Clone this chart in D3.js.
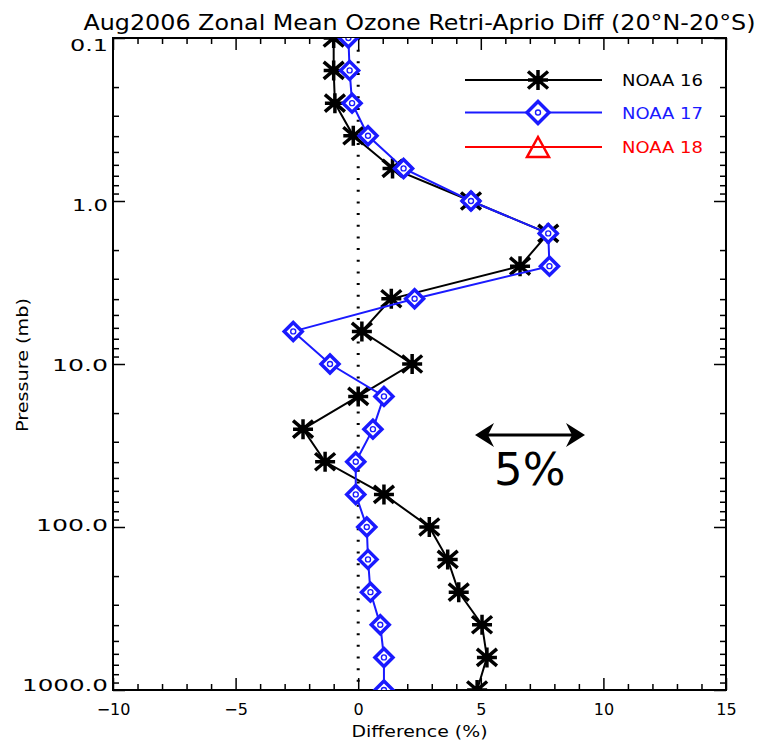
<!DOCTYPE html>
<html>
<head>
<meta charset="utf-8">
<script src="https://cdn.jsdelivr.net/npm/d3@7"></script>
<style>
  html, body { margin: 0; padding: 0; background: #fff; }
  svg { display: block; }
  text { font-family: "DejaVu Sans", sans-serif; }
</style>
</head>
<body>
<svg id="chart" width="759" height="741"></svg>
<script>
// ---- data ----
const pressureLevels = [0.1, 0.158, 0.251, 0.398, 0.631, 1.0, 1.58, 2.51, 3.98, 6.31, 10, 15.8, 25.1, 39.8, 63.1, 100, 158, 251, 398, 631, 1000];
const noaa16 = [-1.0, -1.0, -0.95, -0.2, 1.4, 4.6, 7.75, 6.6, 1.35, 0.15, 2.2, 0.0, -2.25, -1.35, 1.05, 2.9, 3.65, 4.1, 5.05, 5.25, 4.85];
const noaa17 = [-0.4, -0.35, -0.25, 0.4, 1.85, 4.6, 7.75, 7.8, 2.3, -2.65, -1.15, 1.05, 0.6, -0.1, -0.1, 0.35, 0.4, 0.5, 0.9, 1.05, 1.05];
const noaa18 = [];
const seriesNames = ["NOAA 16", "NOAA 17", "NOAA 18"];
const seriesColors = ["#000000", "#1a1aff", "#ff0000"];
const xMajorTicks = [-10, -5, 0, 5, 10, 15];
const yMajorTicks = [0.1, 1, 10, 100, 1000];
const titleText = "Aug2006 Zonal Mean Ozone Retri-Aprio Diff (20°N-20°S)";
const xTitle = "Difference (%)";
const yTitle = "Pressure (mb)";
const noteText = "5%";

// ---- layout ----
const L = 113, R = 726, T = 38, B = 690;
const svg = d3.select("#chart");
const x = d3.scaleLinear().domain([-10, 15]).range([L, R]);
const y = d3.scaleLog().domain([0.1, 1000]).range([T, B]);

const xMinor = d3.range(-10, 15.001, 1).filter(v => !xMajorTicks.includes(v));
const yMinor = [];
[0.1, 1, 10, 100].forEach(d => { for (let k = 2; k <= 9; k++) yMinor.push(d * k); });

function styleAxis(g) {
  g.select(".domain").remove();
  g.selectAll(".tick line").attr("stroke", "#000").attr("stroke-width", 1.5);
}

// ticks (inward)
svg.append("g").attr("transform", `translate(0,${B})`)
  .call(d3.axisBottom(x).tickValues(xMinor).tickSize(-6).tickFormat("")).call(styleAxis);
svg.append("g").attr("transform", `translate(0,${T})`)
  .call(d3.axisTop(x).tickValues(xMinor).tickSize(-6).tickFormat("")).call(styleAxis);
svg.append("g").attr("transform", `translate(0,${T})`)
  .call(d3.axisTop(x).tickValues(xMajorTicks).tickSize(-12).tickFormat("")).call(styleAxis);
svg.append("g").attr("transform", `translate(${L},0)`)
  .call(d3.axisLeft(y).tickValues(yMinor).tickSize(-6).tickFormat("")).call(styleAxis);
svg.append("g").attr("transform", `translate(${R},0)`)
  .call(d3.axisRight(y).tickValues(yMinor).tickSize(-6).tickFormat("")).call(styleAxis);
svg.append("g").attr("transform", `translate(${R},0)`)
  .call(d3.axisRight(y).tickValues(yMajorTicks).tickSize(-12).tickFormat("")).call(styleAxis);

// bottom major ticks + labels
const xAx = svg.append("g").attr("transform", `translate(0,${B})`)
  .call(d3.axisBottom(x).tickValues(xMajorTicks).tickSize(-12).tickPadding(14).tickFormat(d3.format("d")))
  .call(styleAxis);
xAx.selectAll(".tick text").attr("fill", "#000").attr("font-size", 16)
  .attr("font-family", "DejaVu Sans, sans-serif");

// left major ticks + labels
const yLabelWidths = {0.1: 38, 1: 36, 10: 56, 100: 72, 1000: 86};
const yAx = svg.append("g").attr("transform", `translate(${L},0)`)
  .call(d3.axisLeft(y).tickValues(yMajorTicks).tickSize(-12).tickPadding(5).tickFormat(d3.format(".1f")))
  .call(styleAxis);
yAx.selectAll(".tick text").attr("fill", "#000").attr("font-size", 16)
  .attr("font-family", "DejaVu Sans, sans-serif")
  .attr("dy", null)
  .attr("y", (d, i) => 6 + 6 - 12 * (i / 4))
  .attr("textLength", d => yLabelWidths[d])
  .attr("lengthAdjust", "spacingAndGlyphs");

// frame
svg.append("rect").attr("x", L).attr("y", T).attr("width", R - L).attr("height", B - T)
  .attr("fill", "none").attr("stroke", "#000").attr("stroke-width", 2);

// zero dotted line
svg.append("line").attr("x1", x(0)).attr("x2", x(0)).attr("y1", T).attr("y2", B)
  .attr("stroke", "#000").attr("stroke-width", 3).attr("stroke-dasharray", "2,9.67");

// clip
svg.append("clipPath").attr("id", "plotclip").append("rect")
  .attr("x", L).attr("y", T).attr("width", R - L).attr("height", B - T);
const plot = svg.append("g").attr("clip-path", "url(#plotclip)");

// symbols
const starPath = "M0,-10L0,10M-10,0L10,0M-10,-8.5L10,8.5M-10,8.5L10,-8.5";
function diamondPath(h) { return `M0,${-h}L${h},0L0,${h}L${-h},0Z`; }
function drawStar(g, cx, cy, color) {
  const s = g.append("g").attr("transform", `translate(${cx},${cy})`);
  s.append("path").attr("d", starPath)
    .attr("stroke", color).attr("stroke-width", 3.5).attr("fill", "none");
  s.append("circle").attr("r", 4).attr("fill", color);
}
function drawDiamond(g, cx, cy, color, h) {
  const s = g.append("g").attr("transform", `translate(${cx},${cy})`);
  s.append("path").attr("d", diamondPath(h)).attr("stroke", color).attr("stroke-width", 3.5)
    .attr("fill", "#fff").attr("stroke-linejoin", "miter");
  s.append("circle").attr("r", 2.5).attr("fill", "none").attr("stroke", color).attr("stroke-width", 1.4);
}
function drawTriangle(g, cx, cy, color) {
  g.append("path").attr("d", "M0,-10L11,10L-11,10Z").attr("transform", `translate(${cx},${cy})`)
    .attr("stroke", color).attr("stroke-width", 2.5).attr("fill", "none");
}

const line = d3.line().x(d => x(d.v)).y(d => y(d.p));
const s16 = noaa16.map((v, i) => ({v, p: pressureLevels[i]}));
const s17 = noaa17.map((v, i) => ({v, p: pressureLevels[i]}));
const s18 = noaa18.map((v, i) => ({v, p: pressureLevels[i]}));

plot.append("path").datum(s16).attr("d", line).attr("fill", "none")
  .attr("stroke", seriesColors[0]).attr("stroke-width", 2);
s16.forEach(d => drawStar(plot, x(d.v), y(d.p), seriesColors[0]));

plot.append("path").datum(s17).attr("d", line).attr("fill", "none")
  .attr("stroke", seriesColors[1]).attr("stroke-width", 2);
s17.forEach(d => drawDiamond(plot, x(d.v), y(d.p), seriesColors[1], 9));

if (s18.length) {
  plot.append("path").datum(s18).attr("d", line).attr("fill", "none")
    .attr("stroke", seriesColors[2]).attr("stroke-width", 2);
  s18.forEach(d => drawTriangle(plot, x(d.v), y(d.p), seriesColors[2]));
}

// legend
const legY = [80, 112.5, 147];
const legText = svg.append("g");
seriesNames.forEach((name, i) => {
  legText.append("line").attr("x1", 465).attr("x2", 602).attr("y1", legY[i]).attr("y2", legY[i])
    .attr("stroke", seriesColors[i]).attr("stroke-width", 2);
  if (i === 0) drawStar(legText, 538, legY[i], seriesColors[i]);
  if (i === 1) drawDiamond(legText, 538, legY[i], seriesColors[i], 11);
  if (i === 2) drawTriangle(legText, 538, legY[i], seriesColors[i]);
  legText.append("text").attr("x", 622).attr("y", legY[i] + 6)
    .attr("font-size", 15).attr("fill", seriesColors[i])
    .attr("textLength", 81).attr("lengthAdjust", "spacingAndGlyphs").text(name);
});

// titles
svg.append("text").attr("x", (L + R) / 2).attr("y", 30).attr("text-anchor", "middle")
  .attr("font-size", 21).attr("textLength", 672).attr("lengthAdjust", "spacingAndGlyphs")
  .text(titleText);
svg.append("text").attr("x", (L + R) / 2).attr("y", 737).attr("text-anchor", "middle")
  .attr("font-size", 16).attr("textLength", 136).attr("lengthAdjust", "spacingAndGlyphs")
  .text(xTitle);
svg.append("text").attr("transform", `translate(28,365) rotate(-90)`).attr("text-anchor", "middle")
  .attr("font-size", 15).attr("textLength", 134).attr("lengthAdjust", "spacingAndGlyphs")
  .text(yTitle);

// 5% annotation arrow
const ay = 435, ax1 = 475, ax2 = 585;
svg.append("line").attr("x1", ax1 + 6).attr("x2", ax2 - 6).attr("y1", ay).attr("y2", ay)
  .attr("stroke", "#000").attr("stroke-width", 3);
svg.append("path").attr("d", `M${ax1},${ay}L${ax1 + 19},${ay - 12}L${ax1 + 13},${ay}L${ax1 + 19},${ay + 12}Z`)
  .attr("fill", "#000");
svg.append("path").attr("d", `M${ax2},${ay}L${ax2 - 19},${ay - 12}L${ax2 - 13},${ay}L${ax2 - 19},${ay + 12}Z`)
  .attr("fill", "#000");
svg.append("text").attr("x", 494).attr("y", 485).attr("font-size", 45)
  .attr("font-family", "Liberation Sans, Arial, sans-serif").text(noteText);
</script>
</body>
</html>
